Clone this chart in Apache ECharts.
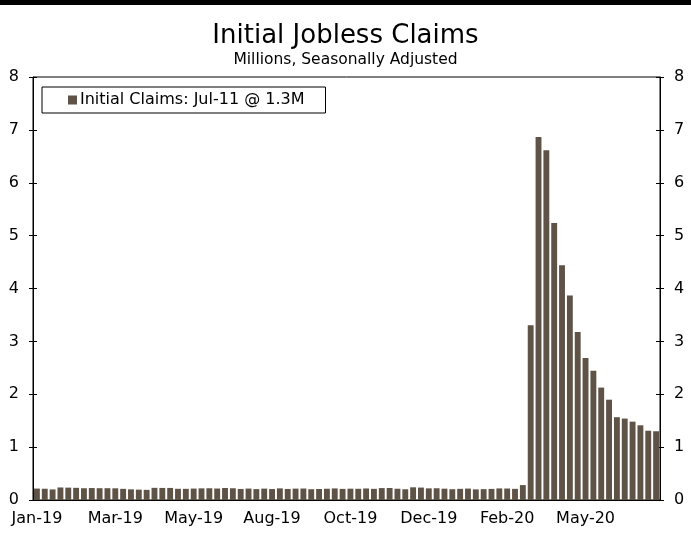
<!DOCTYPE html>
<html>
<head>
<meta charset="utf-8">
<script src="https://cdn.jsdelivr.net/npm/echarts@6/dist/echarts.min.js"></script>
<style>html,body{margin:0;padding:0;background:#fff}#c{width:691px;height:536px}</style>
</head>
<body>
<div id="c"></div>
<script>
// Weekly dates (week ending), Jan-05-2019 .. Jul-11-2020
const weeks = [];
(function(){
  const start = Date.UTC(2019,0,5);
  const mon = ['Jan','Feb','Mar','Apr','May','Jun','Jul','Aug','Sep','Oct','Nov','Dec'];
  for (let i=0;i<80;i++){
    const d = new Date(start + i*7*86400000);
    weeks.push(mon[d.getUTCMonth()] + '-' + String(d.getUTCFullYear()).slice(2));
  }
})();
// Initial claims, millions, SA
const claims2019 = [0.216,0.213,0.200,0.237,0.234,0.230,0.222,0.226,0.223,0.223,0.221,0.211,0.202,0.196,0.192,0.230,0.228,0.228,0.212,0.211,0.216,0.220,0.222,0.217,0.227,0.222,0.209,0.216,0.206,0.215,0.207,0.220,0.209,0.215,0.217,0.204,0.208,0.213,0.219,0.210,0.214,0.212,0.218,0.211,0.225,0.227,0.213,0.203,0.240,0.235,0.220,0.222];
const claims2020 = [0.214,0.204,0.211,0.216,0.201,0.205,0.210,0.219,0.217,0.211,0.282,3.307,6.867,6.615,5.237,4.442,3.867,3.176,2.687,2.446,2.126,1.897,1.566,1.540,1.482,1.413,1.310,1.300];
const claims = claims2019.concat(claims2020);
const seriesName = 'Initial Claims: Jul-11 @ 1.3M';

const FONT = 'DejaVu Sans';
const chart = echarts.init(document.getElementById('c'), null, {renderer:'canvas'});
const baseY = {type:'value', min:0, max:8, interval:1, splitLine:{show:false}};
chart.setOption({
  animation:false,
  textStyle:{fontFamily:FONT, color:'#000'},
  title:{
    text:'Initial Jobless Claims', subtext:'Millions, Seasonally Adjusted',
    left:'center', top:18, itemGap:3,
    textStyle:{fontFamily:FONT, fontSize:26, fontWeight:'normal', color:'#000'},
    subtextStyle:{fontFamily:FONT, fontSize:15.5, color:'#000'}
  },
  graphic:[{type:'rect', shape:{x:0,y:0,width:691,height:5}, style:{fill:'#000'}}],
  legend:{
    left:42, top:87, data:[seriesName], icon:'rect', itemWidth:9, itemHeight:9, itemGap:4,
    borderColor:'#000', borderWidth:1, padding:[5,21,5,26],
    textStyle:{fontFamily:FONT, fontSize:16, color:'#000', padding:[0,0,0,-2]}
  },
  grid:{left:33, right:31, top:77, bottom:36, show:true, borderColor:'#000', borderWidth:1, containLabel:false},
  xAxis:[{
    type:'category', data:weeks, position:'bottom',
    axisLine:{lineStyle:{color:'#000', width:1}},
    axisTick:{interval:9, length:5, lineStyle:{color:'#000'}},
    axisLabel:{interval:9, color:'#000', fontFamily:FONT, fontSize:16, margin:11}
  },{
    type:'category', data:weeks, position:'bottom',
    axisLine:{show:false},
    axisTick:{interval:9, inside:true, length:4, lineStyle:{color:'#777'}},
    axisLabel:{show:false}
  }],
  yAxis:[
    Object.assign({}, baseY, {position:'left', axisLine:{show:true, lineStyle:{color:'#000'}},
      axisTick:{show:true, length:4, lineStyle:{color:'#000'}},
      axisLabel:{color:'#000', fontFamily:FONT, fontSize:16, margin:14}}),
    Object.assign({}, baseY, {position:'left', axisLine:{show:false},
      axisTick:{show:true, inside:true, length:4, lineStyle:{color:'#000'}}, axisLabel:{show:false}}),
    Object.assign({}, baseY, {position:'right', axisLine:{show:true, lineStyle:{color:'#000'}},
      axisTick:{show:true, length:4, lineStyle:{color:'#000'}},
      axisLabel:{color:'#000', fontFamily:FONT, fontSize:16, margin:14}}),
    Object.assign({}, baseY, {position:'right', axisLine:{show:false},
      axisTick:{show:true, inside:true, length:4, lineStyle:{color:'#000'}}, axisLabel:{show:false}})
  ],
  series:[{
    name:seriesName, type:'bar', data:claims, xAxisIndex:0, yAxisIndex:0,
    barCategoryGap:'25%', itemStyle:{color:'#5F5246'}
  }]
});
</script>
</body>
</html>
